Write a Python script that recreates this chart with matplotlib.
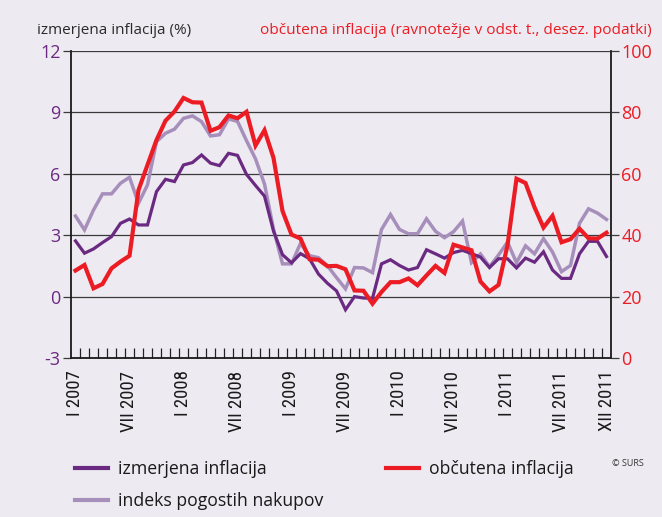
import numpy as np
import matplotlib
matplotlib.use("Agg")
import matplotlib.pyplot as plt
from matplotlib import font_manager
from matplotlib.lines import Line2D

# ---------------- data ----------------
months = list(range(60))  # I 2007 ... XII 2011
tick_pos = [0, 6, 12, 18, 24, 30, 36, 42, 48, 54, 59]
tick_labels = ['I 2007', 'VII 2007', 'I 2008', 'VII 2008', 'I 2009', 'VII 2009',
               'I 2010', 'VII 2010', 'I 2011', 'VII 2011', 'XII 2011']

izmerjena = [2.72, 2.12, 2.33, 2.64, 2.93, 3.58, 3.79, 3.5, 3.5, 5.13,
             5.73, 5.62, 6.43, 6.55, 6.92, 6.52, 6.4, 7.0, 6.9, 5.97,
             5.43, 4.91, 3.2, 2.05, 1.65, 2.1, 1.85, 1.1, 0.65, 0.28,
             -0.64, 0.0, -0.07, -0.08, 1.6, 1.8, 1.52, 1.3, 1.42, 2.29,
             2.09, 1.88, 2.15, 2.26, 2.1, 1.93, 1.42, 1.85, 1.85, 1.4,
             1.88, 1.68, 2.19, 1.3, 0.89, 0.89, 2.09, 2.7, 2.7, 1.96]

indeks = [3.94, 3.26, 4.23, 5.02, 5.02, 5.54, 5.83, 4.56, 5.46, 7.57,
          7.98, 8.18, 8.71, 8.83, 8.55, 7.85, 7.91, 8.68, 8.56, 7.62,
          6.73, 5.5, 3.3, 1.6, 1.6, 2.6, 2.0, 1.9, 1.5, 0.93,
          0.38, 1.42, 1.4, 1.17, 3.28, 4.01, 3.28, 3.07, 3.07, 3.8,
          3.19, 2.88, 3.17, 3.69, 1.66, 2.08, 1.46, 2.03, 2.66, 1.66,
          2.48, 2.09, 2.83, 2.18, 1.22, 1.52, 3.58, 4.29, 4.08, 3.77]

obcutena = [28.5, 30.3, 22.7, 24.1, 29.2, 31.4, 33.3, 54.7, 62.9, 71.0,
            77.3, 80.3, 84.7, 83.3, 83.2, 74.0, 75.2, 79.0, 78.1, 80.2,
            69.2, 74.2, 65.2, 47.9, 40.2, 38.9, 32.2, 32.0, 29.9, 30.0,
            28.9, 22.0, 21.9, 17.7, 21.5, 24.7, 24.7, 25.9, 23.7, 26.9,
            30.0, 27.7, 36.9, 36.0, 35.1, 24.9, 21.7, 23.8, 36.7, 58.4,
            57.0, 49.1, 42.5, 46.3, 37.7, 38.7, 42.1, 39.0, 38.9, 40.8]

left_ticks = [-3, 0, 3, 6, 9, 12]
right_ticks = [0, 20, 40, 60, 80, 100]

# ---------------- style ----------------
def pick(cands):
    for c in cands:
        try:
            font_manager.findfont(font_manager.FontProperties(family=c), fallback_to_default=False)
            return c
        except Exception:
            pass
    return 'DejaVu Sans'

narrow = pick(['Liberation Sans Narrow', 'Roboto Condensed', 'Open Sans', 'DejaVu Sans'])
regular = pick(['Open Sans', 'Noto Sans', 'DejaVu Sans'])
plt.rcParams['font.family'] = [regular, 'DejaVu Sans']

BG = '#eeeaf1'
PURPLE = '#6b2a82'
LAV = '#a78fbc'
RED = '#ec1c24'
GRID = '#3a3a3a'

fig = plt.figure(figsize=(6.62, 5.17), dpi=100, facecolor=BG)
ax = fig.add_axes([71/662, 1-358/517, 540/662, 307/517])
ax.set_facecolor(BG)

ax.plot(months, indeks, color=LAV, lw=2.5, solid_joinstyle='miter', zorder=3)
ax.plot(months, izmerjena, color=PURPLE, lw=2.3, solid_joinstyle='miter', zorder=4)

ax.set_xlim(-0.5, 59.5)
ax.set_ylim(-3, 12)
ax.set_yticks(left_ticks)
ax.set_yticklabels([str(t) for t in left_ticks], color=PURPLE, fontsize=13)
ax.tick_params(axis='y', direction='out', length=6, width=0.9, color=GRID, pad=1.5)
ax.grid(axis='y', color=GRID, lw=0.9, zorder=1)
ax.set_axisbelow(True)

ax.set_xticks(tick_pos)
ax.set_xticklabels(tick_labels, rotation=90, fontsize=13.5, family=narrow, color='#1a1a1a')
ax.set_xticks(np.arange(0.5, 59, 1), minor=True)
ax.tick_params(axis='x', which='major', length=0, pad=9)
ax.tick_params(axis='x', which='minor', direction='in', length=7, width=0.9, color='#222222')

for s in ['left', 'right', 'bottom']:
    ax.spines[s].set_color('#1a1a1a')
    ax.spines[s].set_linewidth(1.3)
ax.spines['top'].set_visible(False)

ax2 = ax.twinx()
ax2.plot(months, obcutena, color=RED, lw=3.0, solid_joinstyle='miter', zorder=5)
ax2.set_ylim(0, 100)
ax2.set_yticks(right_ticks)
ax2.set_yticklabels([str(t) for t in right_ticks], color=RED, fontsize=13)
ax2.tick_params(axis='y', direction='out', length=6, width=0.9, color=GRID, pad=1.5)
for s in ['left', 'right', 'bottom', 'top']:
    ax2.spines[s].set_visible(False)

# axis titles
fig.text(37/662, 1-31/517, 'izmerjena inflacija (%)', fontsize=11, color='#2a2a2a',
         ha='left', va='center')
fig.text(652/662, 1-31/517, 'občutena inflacija (ravnotežje v odst. t., desez. podatki)',
         fontsize=11.1, color=RED, ha='right', va='center')

# legend
handles = [Line2D([], [], color=PURPLE, lw=3),
           Line2D([], [], color=LAV, lw=3),
           Line2D([], [], color=RED, lw=3)]
labels = ['izmerjena inflacija', 'indeks pogostih nakupov', 'občutena inflacija']
fig.legend(handles, labels, ncol=2, loc='upper left', bbox_to_anchor=(75/662, 1-460/517),
           frameon=False, fontsize=12.7, handlelength=1.87, handletextpad=0.57,
           columnspacing=3.55, labelspacing=0.8, labelcolor='#1a1a1a',
           borderpad=0, borderaxespad=0)

fig.text(612/662, 1-464/517, '© SURS', fontsize=6.5, color='#333333', ha='left', va='center')

fig.savefig('out.png', dpi=100, facecolor=BG)
